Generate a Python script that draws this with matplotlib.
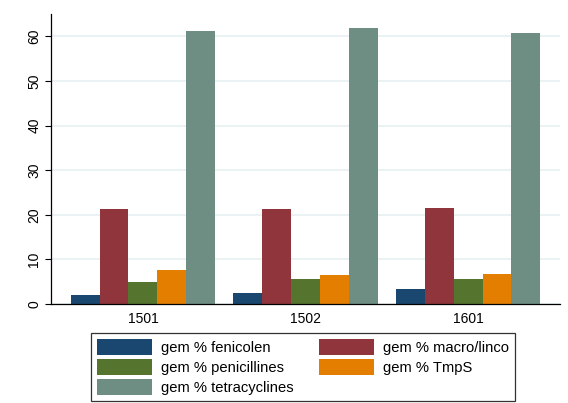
import numpy as np
from matplotlib import pyplot as plt
from matplotlib.patches import Patch

plt.rcParams['font.family'] = ['Liberation Sans', 'DejaVu Sans']

groups = ['1501', '1502', '1601']
series = ['gem % fenicolen', 'gem % macro/linco', 'gem % penicillines',
          'gem % TmpS', 'gem % tetracyclines']
values = [
    [2.0, 2.5, 3.4],      # fenicolen
    [21.4, 21.2, 21.6],   # macro/linco
    [4.85, 5.5, 5.6],     # penicillines
    [7.7, 6.5, 6.7],      # TmpS
    [61.2, 61.8, 60.8],   # tetracyclines
]
colors = ['#1a476f', '#90353b', '#55752f', '#e37e00', '#6e8e84']

fig = plt.figure(figsize=(5.68, 4.03), dpi=100)
ax = fig.add_axes([51 / 568, 1 - 304 / 403, 509 / 568, 290 / 403])

x = np.arange(len(groups))
w = 0.1774
handles = []
for i, (name, vals) in enumerate(zip(series, values)):
    ax.bar(x + (i - 2) * w, vals, width=w, color=colors[i], zorder=2)
    handles.append(Patch(facecolor=colors[i], label=name))

ax.set_xlim(-0.565, 2.565)
ax.set_ylim(0, 65)
ax.set_yticks(range(0, 61, 10))
ax.set_xticks(x)
ax.set_xticklabels(groups, fontsize=10)
ax.tick_params(axis='x', length=0, pad=6)
ax.tick_params(axis='y', length=4, width=0.8, pad=3, labelsize=10)
for lab in ax.get_yticklabels():
    lab.set_rotation(90)
    lab.set_va('center')
ax.grid(axis='y', color='#e8f0f2', linewidth=1.2, zorder=0)
ax.set_axisbelow(True)
ax.spines['top'].set_visible(False)
ax.spines['right'].set_visible(False)
ax.spines['left'].set_linewidth(0.9)
ax.spines['bottom'].set_linewidth(0.9)

order = [0, 2, 4, 1, 3]
leg = fig.legend([handles[k] for k in order], [series[k] for k in order],
                 ncol=2, loc='upper left',
                 bbox_to_anchor=(91 / 568, 1 - 333 / 403),
                 fontsize=10.6, frameon=True, fancybox=False,
                 edgecolor='black', handlelength=3.73, handleheight=1.25,
                 handletextpad=0.61, columnspacing=1.7, labelspacing=0.3,
                 borderpad=0.42, borderaxespad=0)
leg.get_frame().set_linewidth(0.9)

fig.savefig('out.png', dpi=100)
